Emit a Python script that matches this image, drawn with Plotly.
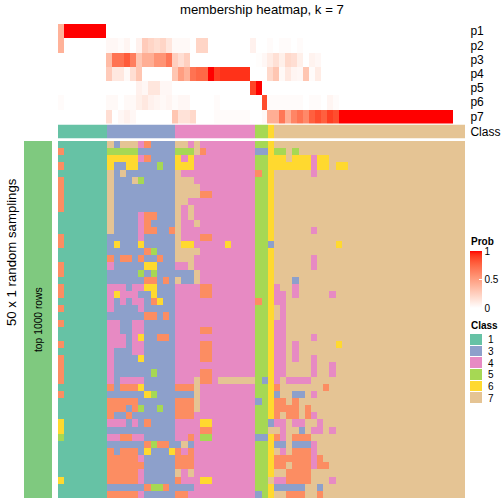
import plotly.graph_objects as go

# ---------------- data ----------------
class_order = [1, 3, 4, 5, 6, 7]
class_colors = {1: "#66C2A5", 2: "#FC8D62", 3: "#8DA0CB", 4: "#E78AC3",
                5: "#A6D854", 6: "#FFD92F", 7: "#E5C494"}
prob_names = ["p1", "p2", "p3", "p4", "p5", "p6", "p7"]

column_classes = [1]*8 + [3]*11 + [4]*13 + [5]*2 + [6]*1 + [7]*31

p1 = [.4] + [1]*7 + [0]*58
p2 = [.4] + [0]*7 + [.04, .04, .02, .05, 0, .07, .27, .22, .18, .22, .13, .03, .03, .03, 0, .22, .22] + [0]*7 + \
     [.07, 0, 0, .02, 0, .02, .02, 0, .02] + [0]*25
p3 = [0]*8 + [.35, .7, .7, .8, .65, .3, .42, .42, .55, .55, .68, .25, .17, .25] + [0]*11 + \
     [.01, .04, .1, .16, .08, .2, .17, .08, 0, .06, .04] + [0]*24
p4 = [0]*8 + [.27, .12, .12, .03, .17, .3, 0, 0, 0, 0, 0, .3, .5, .4, .7, .75, .75, 1, .9, .93, .93, .93, .93, .93] + [0]*3 + \
     [.2, .3, .03, .12, .05, .04, .3, .02, .1] + [0]*22
p5 = [0]*13 + [.07, .04, .13, .13, .04, .04] + [0]*13 + [.88, 1] + [0]*32
p6 = [.02] + [0]*7 + [.03, .03, 0, .03, .03, .08, .12, .07, .05, .03, .05, .02, .04, .04, 0, 0, 0, 0, .02] + [0]*7 + \
     [.85, .02, .02, .02, .02, .02, .02, 0, .02, .02, 0, .05, .02] + [0]*19
p7 = [0]*8 + [.17, 0, .04, .07, .04, 0, 0, 0, 0, 0, 0, .3, .15, .15, .2, 0, 0, 0, .02, .02, .02, .02, .02, .02, 0, 0, .03,
     .42, .42, .68, .42, .62, .7, .6, .78, .85, .78, .9, .85] + [1]*19
prob_values = [p1, p2, p3, p4, p5, p6, p7]

# each row: col0, col1-7, cols 8-18, cols 19-31, cols 32-33, col 34, start of cols 35+ (rest is class 7)
sample_rows = [
    "1 1111111 73777423333 7747444444444 55 6",
    "2 1111111 55555333333 5557244444444 33 6 5575",
    "1 1111111 66666423333 6464444444444 55 6 667666466",
    "2 1111111 63366333533 6664444444444 55 6 666666466766",
    "1 1111111 73733333333 7444444444444 25 6 7777774",
    "2 1111111 73337533333 7774444444444 55 6",
    "2 1111111 73333333333 7777444444444 55 6",
    "2 1111111 73333333333 7777224444444 55 6",
    "2 1111111 73333333333 7744444444444 55 6",
    "2 1111111 73333333333 7474444444444 55 6",
    "1 1111111 73333422333 7474444444444 55 6",
    "1 1111111 73333423333 7447444444444 55 6",
    "1 1111111 73333422332 7444444444444 55 6 7777774",
    "2 1111111 33333433333 7444224444444 55 6",
    "2 1111111 36333633333 7664444464444 55 3 77777777776",
    "1 1111111 33333325333 7777444444444 55 6",
    "1 1111111 23223233233 7774444444444 55 6 7777774",
    "2 1111111 43333366333 4474444444444 55 6 7777774",
    "2 1111111 33333535333 3337444444444 55 6",
    "1 1111111 33333322323 7337444444444 55 6 7773",
    "2 1111111 44434466333 4444224444444 55 6 4774",
    "2 1111111 46444336333 4444224444444 55 6 4474777774",
    "1 1111111 43434432633 4444444444444 25 6 44",
    "2 1111111 43333433333 4444444444444 55 6 74",
    "1 1111111 33333322323 4444444444444 55 6 74",
    "2 1111111 44334433333 4444444444444 55 6 44",
    "1 1111111 44334433333 4444224444444 55 6 44",
    "1 1111111 44434633223 4444444444444 55 6 4477774",
    "2 1111111 44434433333 4444224444444 55 6 447477777 76",
    "1 1111111 43334433333 4444224444444 55 6 4474",
    "2 1111111 43333633333 4444224444444 55 6 4474774",
    "2 1111111 43333333333 4444444444444 55 6 4477774774",
    "2 1111111 43333335333 4444224444444 55 6 4477774774",
    "2 1111111 43444433333 4447224777777 53 6 474444",
    "1 1111111 23222633333 2227444444444 55 6 277777772",
    "2 1111111 33333365333 3337444444444 55 6 3773374",
    "1 1111111 22222333333 2227444444444 35 6 2272",
    "1 1111111 22232533533 2227444444444 55 6 222272",
    "1 1111111 23323333333 2224444444444 55 6 2722724",
    "6 1111111 44434323333 4444664444444 55 3 44744774",
    "6 1111111 33333333333 4444224444444 55 7 7477374474",
    "5 1111111 44224433333 4424554444444 33 6 247222",
    "1 1111111 33333325223 3734444444444 55 6 3373334",
    "1 1111111 23222363336 2424444444444 55 6 7472224",
    "1 1111111 22222433333 2224444444444 55 6 22222242",
    "1 1111111 22222233333 2224444444444 55 6 227222422",
    "1 1111111 22222433333 7474444444444 55 6 772222",
    "6 1111111 22222433333 2444664444444 55 7 4422227774",
    "1 1111111 33333325523 3334444444444 55 6 33333773",
    "1 1111111 22222433333 2244444444444 35 6 77222772",
]
sample_matrix = [[int(ch) for ch in row.replace(" ", "").ljust(66, "7")] for row in sample_rows]

# ---------------- helpers ----------------
W = H = 504.0
def xdom(a, b): return [a / W, b / W]
def ydom(top, bottom): return [1 - bottom / H, 1 - top / H]

def lab_ramp(t):
    """white -> red in LAB, as circlize does"""
    L, a, b = 100 + (53.24 - 100) * t, 80.09 * t, 67.2 * t
    fy = (L + 16) / 116; fx = fy + a / 500; fz = fy - b / 200
    inv = lambda f: f**3 if f**3 > 0.008856 else (f - 16/116) / 7.787
    X, Y, Z = 0.95047 * inv(fx), inv(fy), 1.08883 * inv(fz)
    r = 3.2406*X - 1.5372*Y - 0.4986*Z
    g = -0.9689*X + 1.8758*Y + 0.0415*Z
    bl = 0.0557*X - 0.2040*Y + 1.0570*Z
    gam = lambda c: 255 * min(1, max(0, 12.92*c if c <= 0.0031308 else 1.055*c**(1/2.4) - 0.055))
    return f"rgb({gam(r):.0f},{gam(g):.0f},{gam(bl):.0f})"

prob_scale = [[i / 20, lab_ramp(i / 20)] for i in range(21)]
class_scale = []
for k in range(1, 8):
    class_scale += [[(k - 1) / 7, class_colors[k]], [k / 7, class_colors[k]]]

FONT = "Liberation Sans"
fig = go.Figure()

# probability heatmap
fig.add_trace(go.Heatmap(
    z=prob_values, y=prob_names, zmin=0, zmax=1, colorscale=prob_scale, xaxis="x", yaxis="y", hoverinfo="skip",
    colorbar=dict(x=470 / W, xanchor="left", y=1 - 308 / H, yanchor="bottom", len=57, lenmode="pixels",
                  thickness=12, thicknessmode="pixels", xpad=0, ypad=0, tickvals=[0, .5, 1],
                  ticktext=["0", "0.5", "1"], ticks="inside", ticklen=3, tickcolor="white", outlinewidth=0,
                  tickfont=dict(family=FONT, size=10, color="black"))))
# class annotation row
fig.add_trace(go.Heatmap(z=[column_classes], y=["Class"], zmin=.5, zmax=7.5, colorscale=class_scale, showscale=False,
                         xaxis="x2", yaxis="y2", hoverinfo="skip"))
# main matrix
fig.add_trace(go.Heatmap(z=sample_matrix, zmin=.5, zmax=7.5, colorscale=class_scale, showscale=False,
                         xaxis="x3", yaxis="y3", hoverinfo="skip"))
# left block
fig.add_trace(go.Heatmap(z=[[1]], zmin=0, zmax=1, colorscale=[[0, "#7FC97F"], [1, "#7FC97F"]], showscale=False,
                         xaxis="x4", yaxis="y4", hoverinfo="skip"))
# class legend
fig.add_trace(go.Heatmap(z=[[c] for c in class_order], y=[str(c) for c in class_order], zmin=.5, zmax=7.5,
                         colorscale=class_scale, showscale=False, ygap=1, xaxis="x5", yaxis="y5", hoverinfo="skip"))

hidden = dict(visible=False, showgrid=False, zeroline=False)
tick_right = dict(side="right", ticks="outside", ticklen=2, tickcolor="rgba(0,0,0,0)", showgrid=False, zeroline=False,
                  showline=False, autorange="reversed", type="category", dtick=1)
fig.update_layout(
    width=504, height=504, margin=dict(l=0, r=0, t=0, b=0), paper_bgcolor="white", plot_bgcolor="white",
    font=dict(family=FONT, color="black"),
    xaxis=dict(domain=xdom(58, 465), **hidden),
    yaxis=dict(domain=ydom(24, 123.5), anchor="x", tickfont=dict(size=12), **tick_right),
    xaxis2=dict(domain=xdom(58, 465), anchor="y2", **hidden),
    yaxis2=dict(domain=ydom(124.5, 138.5), anchor="x2", tickfont=dict(size=12), **tick_right),
    xaxis3=dict(domain=xdom(58, 465), anchor="y3", **hidden),
    yaxis3=dict(domain=ydom(141, 498), anchor="x3", autorange="reversed", **hidden),
    xaxis4=dict(domain=xdom(24, 52), anchor="y4", **hidden),
    yaxis4=dict(domain=ydom(141, 498), anchor="x4", **hidden),
    xaxis5=dict(domain=xdom(470, 482), anchor="y5", **hidden),
    yaxis5=dict(domain=ydom(334, 404), anchor="x5", tickfont=dict(size=10), tickmode="array",
                tickvals=[str(c) for c in class_order], ticktext=[str(c) for c in class_order],
                **{k: (3 if k == "ticklen" else v) for k, v in tick_right.items() if k != "dtick"}),
    annotations=[
        dict(text="membership heatmap, k = 7", x=262 / W, y=1 - 9 / H, xref="paper", yref="paper", showarrow=False,
             xanchor="center", yanchor="middle", font=dict(size=13.2)),
        dict(text="50 x 1 random samplings", x=11 / W, y=1 - 252 / H, xref="paper", yref="paper", showarrow=False,
             xanchor="center", yanchor="middle", textangle=-90, font=dict(size=13.2)),
        dict(text="top 1000 rows", x=38 / W, y=1 - 320 / H, xref="paper", yref="paper", showarrow=False,
             xanchor="center", yanchor="middle", textangle=-90, font=dict(size=10.3)),
        dict(text="<b>Prob</b>", x=470 / W, y=1 - 241 / H, xref="paper", yref="paper", showarrow=False,
             xanchor="left", yanchor="middle", xshift=-1, font=dict(size=10)),
        dict(text="<b>Class</b>", x=470 / W, y=1 - 325 / H, xref="paper", yref="paper", showarrow=False,
             xanchor="left", yanchor="middle", xshift=-1, font=dict(size=10)),
    ],
)
fig.write_html("out.html", config={"displayModeBar": False},
               post_script="document.body.style.margin='0';document.body.style.overflow='hidden';")
